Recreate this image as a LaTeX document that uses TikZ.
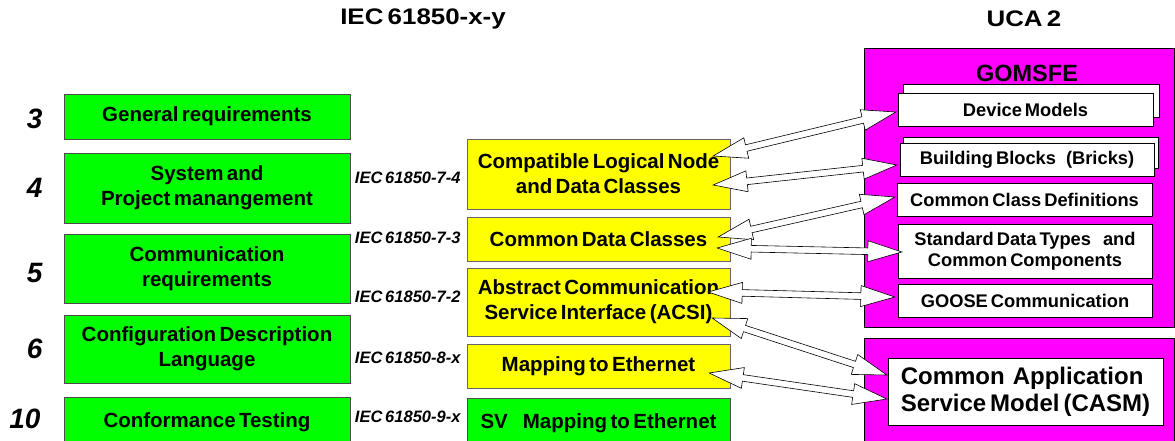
\documentclass[tikz,border=0pt]{standalone}
\usepackage{fontspec}
\usepackage{graphicx}
\setmainfont{Liberation Sans}[WordSpace=0.6]
\usetikzlibrary{calc}
\definecolor{partgreen}{RGB}{0,255,0}
\definecolor{partyellow}{RGB}{255,255,0}
\definecolor{ucamagenta}{RGB}{255,0,255}
\newcommand{\boxfont}{\fontsize{20.5}{25}\selectfont\bfseries}
\newcommand{\dblarrow}[2]{%
  \draw[link] (#1)
    -- ($(#1)!34pt!(#2)!10.5pt!90:(#2)$)
    -- ($(#1)!34pt!(#2)!3.3pt!90:(#2)$)
    -- ($(#2)!34pt!(#1)!3.3pt!-90:(#1)$)
    -- ($(#2)!34pt!(#1)!10.5pt!-90:(#1)$)
    -- (#2)
    -- ($(#2)!34pt!(#1)!10.5pt!90:(#1)$)
    -- ($(#2)!34pt!(#1)!3.3pt!90:(#1)$)
    -- ($(#1)!34pt!(#2)!3.3pt!-90:(#2)$)
    -- ($(#1)!34pt!(#2)!10.5pt!-90:(#2)$)
    -- cycle;}

\begin{document}
\begin{tikzpicture}[x=1pt,y=-1pt,
  gbox/.style={draw=black!70,fill=partgreen,minimum width=286pt,inner sep=0pt,align=center,font=\boxfont},
  ybox/.style={draw=black!60,fill=partyellow,minimum width=263pt,inner sep=0pt,align=center,font=\boxfont},
  wbox/.style={draw=black,fill=white,minimum width=255pt,inner sep=0pt,align=center,font=\fontsize{18.3}{21}\selectfont\bfseries},
  mbox/.style={draw=black,fill=ucamagenta,minimum width=310pt,inner sep=0pt},
  num/.style={anchor=east,font=\fontsize{28}{30}\selectfont\bfseries\itshape},
  part/.style={anchor=east,font=\fontsize{16.5}{18}\selectfont\bfseries\itshape},
  head/.style={font=\fontsize{22.5}{24}\selectfont\bfseries},
  link/.style={draw=black,fill=white,line width=0.6pt}]
\useasboundingbox (0,0) rectangle (1175,441);

\node[head] (iec) at (423,19) {\scalebox{1.15}[1]{IEC 61850-x-y}};
\node[head] (uca) at (1024,19) {\scalebox{1.15}[1]{UCA 2}};

\node[mbox,minimum height=279pt] (gomsfe) at (1019,187.5) {};
\node[mbox,minimum height=112pt] (casmbg) at (1019,394) {};
\node[font=\fontsize{23.5}{26}\selectfont\bfseries] (gomsfetitle) at (1027,73) {GOMSFE};

\node[wbox,minimum width=256pt,minimum height=33pt] (dmback) at (1031,100.5) {};
\node[wbox,minimum height=31pt] (bbback) at (1030.5,152.5) {};
\node[wbox,minimum height=33pt] (dm) at (1025.5,109.5) {Device Models};
\node[wbox,minimum width=254pt,minimum height=33pt] (bb) at (1027,159.5) {Building Blocks\hspace{10pt}(Bricks)};
\node[wbox,minimum height=33pt] (ccd) at (1024.5,199.5) {Common Class Definitions};
\node[wbox,minimum width=254pt,minimum height=54pt] (sdt) at (1025,251) {Standard Data Types\hspace{12pt}and\\Common Components};
\node[wbox,minimum width=254pt,minimum height=33pt] (goose) at (1025,300.5) {GOOSE Communication};
\node[wbox,minimum width=275pt,minimum height=67pt,align=left,font=\fontsize{24}{27}\selectfont\bfseries] (casm) at (1025.5,391.5) {Common\hspace{8pt}Application\\Service Model (CASM)};

\node[gbox,minimum height=45pt] (g3) at (207,116.5) {General requirements};
\node[gbox,minimum height=70pt] (g4) at (207,188) {System and\\ Project manangement};
\node[gbox,minimum height=69pt] (g5) at (207,268.5) {Communication\\requirements};
\node[gbox,minimum height=68pt] (g6) at (207,349) {Configuration Description\\Language};
\node[gbox,minimum height=50pt] (g10) at (207,422) {Conformance Testing};

\node[num] (n3) at (46,118.5) {3};
\node[num] (n4) at (46,188) {4};
\node[num] (n5) at (46,273) {5};
\node[num] (n6) at (46,349) {6};
\node[num] (n10) at (44,418.5) {10};

\node[ybox,minimum height=70pt] (cln) at (598.5,174) {Compatible Logical Node\\and Data Classes};
\node[ybox,minimum height=44pt] (cdc) at (598.5,239) {Common Data Classes};
\node[ybox,minimum height=68pt] (acsi) at (598.5,302) {Abstract Communication\\Service Interface (ACSI)};
\node[ybox,minimum height=44pt] (map) at (598.5,366) {Mapping to Ethernet};
\node[gbox,minimum width=263pt,minimum height=50pt] (sv) at (598.5,423) {SV\hspace{15pt}Mapping to Ethernet};

\node[part] (p74) at (464,178) {IEC 61850-7-4};
\node[part] (p73) at (464,238) {IEC 61850-7-3};
\node[part] (p72) at (464,297) {IEC 61850-7-2};
\node[part] (p8x) at (464,358) {IEC 61850-8-x};
\node[part] (p9x) at (464,417) {IEC 61850-9-x};

\coordinate (cln1) at ($(cln.east)+(-17,-18)$);
\coordinate (cln2) at ($(cln.east)+(-17,11)$);
\coordinate (cdc1) at ($(cdc.east)+(-12,-2)$);
\coordinate (cdc2) at ($(cdc.east)+(-13,9)$);
\coordinate (acsi1) at ($(acsi.east)+(-22,-10)$);
\coordinate (acsi2) at ($(acsi.east)+(-18,16)$);
\coordinate (map1) at ($(map.east)+(-21,7)$);
\coordinate (dmin) at ($(dm.west)+(-2,2.5)$);
\coordinate (bbin) at ($(bb.west)+(-3,5.5)$);
\coordinate (ccdin) at ($(ccd.west)+(-2,-2.5)$);
\coordinate (sdtin) at ($(sdt.west)+(4,1)$);
\coordinate (goosein) at ($(goose.west)+(-3,-3.5)$);
\coordinate (casm1) at ($(casm.west)+(-1,-16.5)$);
\coordinate (casm2) at ($(casm.west)+(-1,7.5)$);

\dblarrow{cln1}{dmin}
\dblarrow{cln2}{bbin}
\dblarrow{cdc1}{ccdin}
\dblarrow{cdc2}{sdtin}
\dblarrow{acsi1}{goosein}
\dblarrow{acsi2}{casm1}
\dblarrow{map1}{casm2}
\end{tikzpicture}
\end{document}
